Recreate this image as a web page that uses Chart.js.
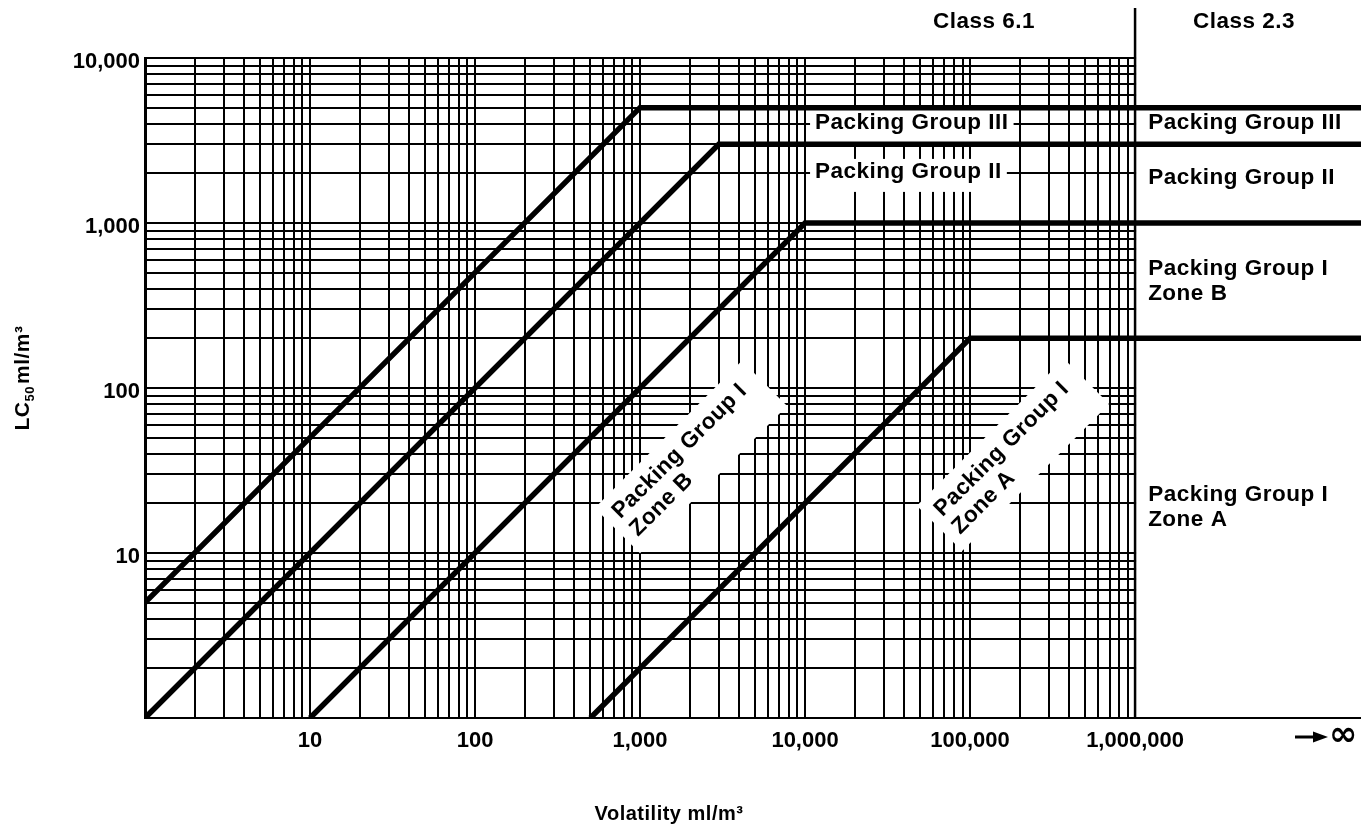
<!DOCTYPE html>
<html>
<head>
<meta charset="utf-8">
<title>LC50 vs Volatility</title>
<script src="https://cdn.jsdelivr.net/npm/chart.js@4.4.1/dist/chart.umd.min.js"></script>
<style>
  html, body { margin: 0; padding: 0; background: #fff; }
  #wrap { width: 1361px; height: 828px; }
</style>
</head>
<body>
<div id="wrap"><canvas id="toxChart"></canvas></div>
<script>
// volatility value used for the right edge of the "-> infinity" strip
const INF_EDGE = 2.34e7;

// boundary lines (volatility ml/m3 -> LC50 ml/m3)
const pg3Volatility = [1, 1000, INF_EDGE];
const pg3LC50 = [5, 5000, 5000];
const pg2Volatility = [1, 3000, INF_EDGE];
const pg2LC50 = [1, 3000, 3000];
const zoneBVolatility = [10, 10000, INF_EDGE];
const zoneBLC50 = [1, 1000, 1000];
const zoneAVolatility = [500, 100000, INF_EDGE];
const zoneALC50 = [1, 200, 200];

// ticks
const xLabelValues = [10, 100, 1000, 10000, 100000, 1000000];
const xTickLabels = ['10', '100', '1,000', '10,000', '100,000', '1,000,000'];
const yLabelValues = [10, 100, 1000, 10000];
const yTickLabels = ['10', '100', '1,000', '10,000'];
const gridDecadesX = [1, 10, 100, 1000, 10000, 100000];
const gridDecadesY = [1, 10, 100, 1000];
const gridSteps = [1, 2, 3, 4, 5, 6, 7, 8, 9];

const TEXT_FAMILY = '"Liberation Sans", Arial, sans-serif';
const LABEL_FONT = 'bold 22.5px ' + TEXT_FAMILY;

// zone labels, anchored in data coordinates (left edge, middle of first line)
const flatLabels = [
    { lines: ['Packing Group III'], vol: 11500, lc: 4040, box: true },
    { lines: ['Packing Group II'], vol: 11500, lc: 2040, box: true },
    { lines: ['Packing Group III'], vol: 1.2e6, lc: 4040 },
    { lines: ['Packing Group II'], vol: 1.2e6, lc: 1870 },
    { lines: ['Packing Group I', 'Zone B'], vol: 1.2e6, lc: 526 },
    { lines: ['Packing Group I', 'Zone A'], vol: 1.2e6, lc: 22.5 }
];
const slantedLabels = [
    { lines: ['Packing Group I', 'Zone B'], vol: 715, lc: 17 },
    { lines: ['Packing Group I', 'Zone A'], vol: 64000, lc: 17.5 }
];

function series(xs, ys) {
    return xs.map((v, i) => ({ x: v, y: ys[i] }));
}

function gridTicks(decades, last) {
    const t = [];
    decades.forEach(d => gridSteps.forEach(s => t.push({ value: d * s })));
    t.push({ value: last });
    return t;
}

function setText(ctx, font) {
    ctx.font = font;
    ctx.fillStyle = '#000';
    if ('letterSpacing' in ctx) ctx.letterSpacing = '0.5px';
}

const overlayPlugin = {
    id: 'overlay',
    beforeDatasetsDraw(chart) {
        const { ctx, chartArea, scales: { x, y } } = chart;
        ctx.save();
        ctx.fillStyle = '#fff';
        // no grid beyond 1,000,000
        const xEnd = x.getPixelForValue(1e6);
        ctx.fillRect(xEnd + 1, chartArea.top - 3, chartArea.right - xEnd + 5,
            chartArea.bottom - chartArea.top + 1.5);

        setText(ctx, LABEL_FONT);
        ctx.fillStyle = '#fff';
        flatLabels.filter(l => l.box).forEach(l => {
            const px = x.getPixelForValue(l.vol);
            const py = y.getPixelForValue(l.lc);
            const w = ctx.measureText(l.lines[0]).width;
            ctx.fillRect(px - 5, py - 13, w + 10, 33);
        });
        slantedLabels.forEach(l => {
            ctx.save();
            ctx.translate(x.getPixelForValue(l.vol), y.getPixelForValue(l.lc));
            ctx.rotate(-Math.PI / 4);
            const w = Math.max(...l.lines.map(t => ctx.measureText(t).width));
            ctx.fillRect(-10, -20, w + 28, 64);
            ctx.restore();
        });
        ctx.restore();
    },
    afterDatasetsDraw(chart) {
        const { ctx, scales: { x, y } } = chart;
        ctx.save();
        setText(ctx, LABEL_FONT);
        ctx.textAlign = 'left';
        ctx.textBaseline = 'middle';
        flatLabels.forEach(l => {
            const px = x.getPixelForValue(l.vol);
            const py = y.getPixelForValue(l.lc);
            l.lines.forEach((t, i) => ctx.fillText(t, px, py + i * 25));
        });
        slantedLabels.forEach(l => {
            ctx.save();
            ctx.translate(x.getPixelForValue(l.vol), y.getPixelForValue(l.lc));
            ctx.rotate(-Math.PI / 4);
            l.lines.forEach((t, i) => ctx.fillText(t, 0, i * 25));
            ctx.restore();
        });
        ctx.restore();
    },
    afterDraw(chart) {
        const { ctx, chartArea, scales: { x } } = chart;
        const xEnd = x.getPixelForValue(1e6);
        ctx.save();

        // class divider
        ctx.strokeStyle = '#000';
        ctx.lineWidth = 2.5;
        ctx.beginPath();
        ctx.moveTo(xEnd, 8);
        ctx.lineTo(xEnd, chartArea.bottom);
        ctx.stroke();

        setText(ctx, LABEL_FONT);
        ctx.textBaseline = 'alphabetic';
        ctx.textAlign = 'right';
        ctx.fillText('Class 6.1', xEnd - 100, 28);
        ctx.textAlign = 'left';
        ctx.fillText('Class 2.3', xEnd + 58, 28);

        // x title
        setText(ctx, 'bold 20px ' + TEXT_FAMILY);
        ctx.textAlign = 'center';
        ctx.fillText('Volatility ml/m\u00b3', 669, 820);

        // y title with subscript
        ctx.save();
        ctx.translate(29, 378);
        ctx.rotate(-Math.PI / 2);
        ctx.textAlign = 'left';
        const big = 'bold 21px ' + TEXT_FAMILY;
        const small = 'bold 13px ' + TEXT_FAMILY;
        ctx.font = big;
        const w1 = ctx.measureText('LC').width;
        const w3 = ctx.measureText('ml/m\u00b3').width;
        ctx.font = small;
        const w2 = ctx.measureText('50').width;
        let sx = -(w1 + w2 + w3 + 2) / 2;
        ctx.font = big;
        ctx.fillText('LC', sx, 0);
        ctx.font = small;
        ctx.fillText('50', sx + w1, 5);
        ctx.font = big;
        ctx.fillText('ml/m\u00b3', sx + w1 + w2 + 2, 0);
        ctx.restore();

        // arrow to infinity
        ctx.lineWidth = 3;
        ctx.beginPath();
        ctx.moveTo(1295, 737);
        ctx.lineTo(1316, 737);
        ctx.stroke();
        ctx.beginPath();
        ctx.moveTo(1313, 731.5);
        ctx.lineTo(1328, 737);
        ctx.lineTo(1313, 742.5);
        ctx.closePath();
        ctx.fill();
        ctx.font = 'bold 34px "DejaVu Sans"';
        ctx.textAlign = 'left';
        ctx.textBaseline = 'middle';
        if ('letterSpacing' in ctx) ctx.letterSpacing = '0px';
        ctx.fillText('\u221e', 1329, 736);

        ctx.restore();
    }
};

document.addEventListener('DOMContentLoaded', function () {
    const lineStyle = {
        showLine: true,
        borderColor: '#000',
        backgroundColor: '#000',
        borderWidth: 5.5,
        borderJoinStyle: 'miter',
        borderCapStyle: 'butt',
        pointRadius: 0,
        tension: 0
    };
    const tickFont = { family: TEXT_FAMILY, weight: 'bold', size: 22 };

    new Chart(document.getElementById('toxChart'), {
        type: 'scatter',
        data: {
            datasets: [
                { label: 'Packing Group III', data: series(pg3Volatility, pg3LC50), ...lineStyle },
                { label: 'Packing Group II', data: series(pg2Volatility, pg2LC50), ...lineStyle },
                { label: 'Packing Group I Zone B', data: series(zoneBVolatility, zoneBLC50), ...lineStyle },
                { label: 'Packing Group I Zone A', data: series(zoneAVolatility, zoneALC50), ...lineStyle }
            ]
        },
        options: {
            responsive: true,
            maintainAspectRatio: false,
            animation: false,
            layout: { padding: { top: 58, right: 0, left: 0, bottom: 0 } },
            plugins: { legend: { display: false }, tooltip: { enabled: false } },
            scales: {
                x: {
                    type: 'logarithmic',
                    min: 1,
                    max: INF_EDGE,
                    afterBuildTicks: a => { a.ticks = gridTicks(gridDecadesX, 1e6); },
                    afterFit: a => { a.height = 110; },
                    grid: { color: '#000', lineWidth: 2, drawTicks: false },
                    border: { color: '#000', width: 2 },
                    ticks: {
                        autoSkip: false, maxRotation: 0, minRotation: 0,
                        padding: 10, color: '#000', font: tickFont,
                        callback: v => {
                            const i = xLabelValues.indexOf(v);
                            return i >= 0 ? xTickLabels[i] : '';
                        }
                    }
                },
                y: {
                    type: 'logarithmic',
                    min: 1,
                    max: 10000,
                    afterBuildTicks: a => { a.ticks = gridTicks(gridDecadesY, 10000); },
                    afterFit: a => { a.width = 145; },
                    grid: { color: '#000', lineWidth: 2, drawTicks: false },
                    border: { color: '#000', width: 3 },
                    ticks: {
                        autoSkip: false, padding: 5, labelOffset: 4,
                        color: '#000', font: tickFont,
                        callback: v => {
                            const i = yLabelValues.indexOf(v);
                            return i >= 0 ? yTickLabels[i] : '';
                        }
                    }
                }
            }
        },
        plugins: [overlayPlugin]
    });
});
</script>
</body>
</html>
